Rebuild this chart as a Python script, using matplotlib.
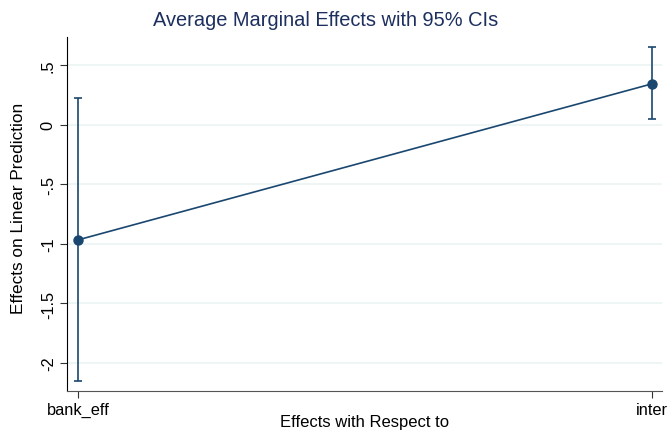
import matplotlib.pyplot as plt
from matplotlib.transforms import ScaledTranslation

plt.rcParams['font.family'] = ['Liberation Sans', 'DejaVu Sans']

# marginal effects and 95% confidence bounds
terms = ['bank_eff', 'inter']
effects = [-0.966, 0.345]
ci_low = [-2.15, 0.05]
ci_high = [0.227, 0.655]
yticks = [0.5, 0, -0.5, -1, -1.5, -2]
ytick_labels = ['.5', '0', '-.5', '-1', '-1.5', '-2']

navy = '#1a476f'

fig = plt.figure(figsize=(6.67, 4.31), dpi=100)
ax = fig.add_axes([0.1004, 0.0905, 0.892, 0.8215])

xpos = list(range(len(terms)))
yerr = [[e - lo for e, lo in zip(effects, ci_low)],
        [hi - e for e, hi in zip(effects, ci_high)]]
ax.errorbar(xpos, effects, yerr=yerr, color=navy, lw=1.2, marker='o',
            ms=6.5, capsize=3.2, capthick=1.2, elinewidth=1.2, zorder=3)

ax.set_xlim(-0.0192, 1.0174)
ax.set_ylim(-2.235, 0.739)
ax.set_xticks(xpos)
ax.set_xticklabels(terms, fontsize=11.8)
ax.set_yticks(yticks)
ax.set_yticklabels(ytick_labels, fontsize=11.8, rotation=90, va='center')
ax.grid(axis='y', color='#eaf2f3', lw=1.1)
ax.set_axisbelow(True)

# nudge the last category label so it stays inside the figure
last = ax.get_xticklabels()[-1]
last.set_transform(last.get_transform() +
                   ScaledTranslation(-4 / 100, 0, fig.dpi_scale_trans))

for side in ['top', 'right']:
    ax.spines[side].set_visible(False)
ax.spines['left'].set_color('black')
ax.spines['bottom'].set_color('#555555')
ax.tick_params(axis='both', length=5, width=0.8, color='#333333', pad=3)

# axis titles and chart title placed in figure coordinates
fig.text(0.546, 4 / 431, 'Effects with Respect to', fontsize=12,
         ha='center', va='baseline')
fig.text(19 / 667, 1 - 208 / 431, 'Effects on Linear Prediction',
         fontsize=12.4, rotation=90, ha='center', va='center')
fig.text(326 / 667, 1 - 20 / 431, 'Average Marginal Effects with 95% CIs',
         fontsize=14.4, color='#1c2f5e', ha='center', va='center')

fig.savefig('out.png', dpi=100)
